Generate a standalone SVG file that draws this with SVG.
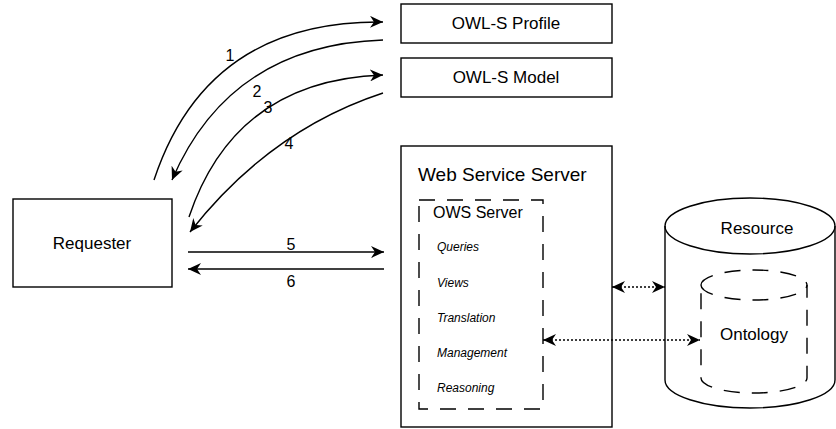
<svg xmlns="http://www.w3.org/2000/svg" width="836" height="429" viewBox="0 0 836 429">
<style>
.box{fill:#fff;stroke:#000;stroke-width:1.4}
.dash{fill:none;stroke:#000;stroke-width:1.4;stroke-dasharray:16,12}
.ln{fill:none;stroke:#000;stroke-width:1.4}
.dot{fill:none;stroke:#000;stroke-width:1.4;stroke-dasharray:2,2}
text{font-family:"Liberation Sans",Arial,sans-serif;fill:#000}
.lbl{font-size:17px;text-anchor:middle}
.num{font-size:16px;text-anchor:middle}
.it{font-size:12px;font-style:italic}
</style>
<defs>
<marker id="ah" markerUnits="userSpaceOnUse" markerWidth="14" markerHeight="12" viewBox="0 0 14 12" refX="13" refY="6" orient="auto-start-reverse">
<path d="M0,0 L13,6 L0,12 L4,6 Z" fill="#000"/>
</marker>
</defs>
<g id="profile"><rect class="box" x="401" y="4" width="211" height="39"/><text class="lbl" x="506" y="29">OWL-S Profile</text></g>
<g id="model"><rect class="box" x="401" y="58" width="211" height="39"/><text class="lbl" x="506" y="83">OWL-S Model</text></g>
<g id="requester"><rect class="box" x="13" y="199" width="159" height="88"/><text class="lbl" x="92" y="249">Requester</text></g>
<g id="wss">
<rect class="box" x="401" y="146" width="211" height="281"/>
<text x="418" y="181" style="font-size:19px">Web Service Server</text>
<rect class="dash" x="419" y="200" width="124" height="209"/>
<text x="433" y="218" style="font-size:16px">OWS Server</text>
<text class="it" x="437" y="251">Queries</text>
<text class="it" x="437" y="287">Views</text>
<text class="it" x="437" y="322">Translation</text>
<text class="it" x="437" y="357">Management</text>
<text class="it" x="437" y="392">Reasoning</text>
</g>
<g id="resource">
<path class="box" d="M665,226 A85,28 0 0 1 835,226 L835,380 A85,28 0 0 1 665,380 Z"/>
<path class="ln" d="M665,226 A85,28 0 0 0 835,226"/>
<text class="lbl" x="757" y="234">Resource</text>
</g>
<g id="ontology">
<path class="dash" d="M701,285 A53,15 0 0 1 807,285 L807,378 A53,15 0 0 1 701,378 Z"/>
<path class="dash" d="M701,285 A53,15 0 0 0 807,285"/>
<text class="lbl" x="754" y="340">Ontology</text>
</g>
<g id="connectors">
<path class="ln" d="M154,180 Q207,20 383,22" marker-end="url(#ah)"/>
<path class="ln" d="M383,40 Q230,45 172,180" marker-end="url(#ah)"/>
<path class="ln" d="M189,217 Q235,80 383,75" marker-end="url(#ah)"/>
<path class="ln" d="M383,93 Q270,130 190,232" marker-end="url(#ah)"/>
<path class="ln" d="M188,252 L384,252" marker-end="url(#ah)"/>
<path class="ln" d="M384,269 L188,269" marker-end="url(#ah)"/>
<path class="dot" d="M612,287 L665,287" marker-start="url(#ah)" marker-end="url(#ah)"/>
<path class="dot" d="M543,340 L700,340" marker-start="url(#ah)" marker-end="url(#ah)"/>
<text class="num" x="230" y="61">1</text>
<text class="num" x="257" y="97">2</text>
<text class="num" x="268" y="113">3</text>
<text class="num" x="289" y="149">4</text>
<text class="num" x="291" y="250">5</text>
<text class="num" x="291" y="287">6</text>
</g>
</svg>
